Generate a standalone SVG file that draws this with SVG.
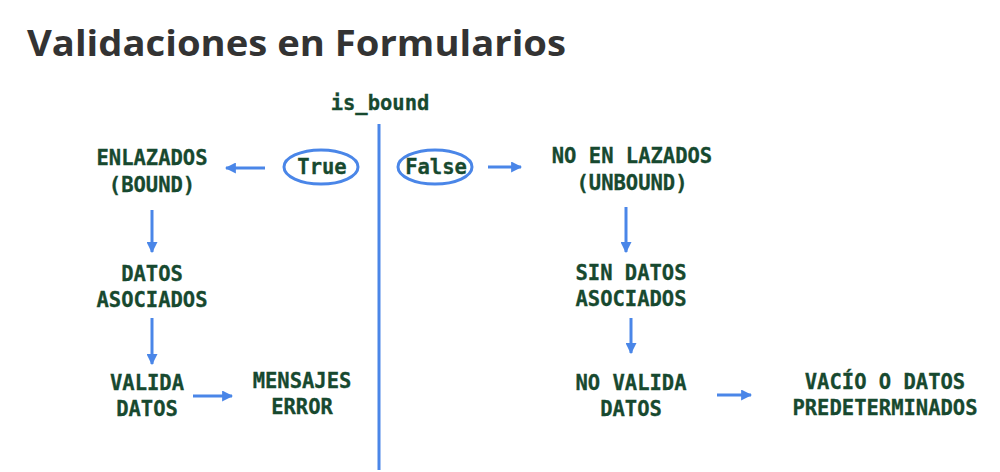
<svg xmlns="http://www.w3.org/2000/svg" width="1000" height="472" viewBox="0 0 1000 472">
<defs>
<style>
.t{font-family:"DejaVu Sans Mono","Liberation Mono",monospace;font-weight:bold;font-size:20.5px;fill:#17492f;text-anchor:middle;stroke:#17492f;stroke-width:0.3}
.title{font-family:"Open Sans","Liberation Sans",sans-serif;font-weight:bold;font-size:36px;fill:#333}
.c{stroke:#4a86e8;stroke-width:3;fill:none}
.e{stroke:#4a86e8;stroke-width:3;fill:#fff}
</style>
<marker id="ah" markerWidth="11" markerHeight="11" refX="9" refY="5" orient="auto" markerUnits="userSpaceOnUse" viewBox="0 0 10 10">
<path d="M0,0 L10,5 L0,10 z" fill="#4a86e8"/>
</marker>
</defs>
<rect width="1000" height="472" fill="#fff"/>
<text class="title" x="27" y="56" textLength="539" lengthAdjust="spacingAndGlyphs">Validaciones en Formularios</text>
<g id="connectors">
<line class="c" x1="379" y1="124" x2="379" y2="470"/>
<line class="c" x1="265" y1="168" x2="226" y2="168" marker-end="url(#ah)"/>
<line class="c" x1="488" y1="167" x2="521" y2="167" marker-end="url(#ah)"/>
<line class="c" x1="152" y1="210" x2="152" y2="252" marker-end="url(#ah)"/>
<line class="c" x1="152" y1="318" x2="152" y2="364" marker-end="url(#ah)"/>
<line class="c" x1="193" y1="396" x2="232" y2="396" marker-end="url(#ah)"/>
<line class="c" x1="626" y1="207" x2="626" y2="252" marker-end="url(#ah)"/>
<line class="c" x1="631" y1="318" x2="631" y2="353" marker-end="url(#ah)"/>
<line class="c" x1="717" y1="395" x2="751" y2="395" marker-end="url(#ah)"/>
</g>
<g id="is_bound"><text class="t" x="380" y="110">is_bound</text></g>
<g id="true"><ellipse class="e" cx="321" cy="167" rx="37" ry="17"/><text class="t" x="322" y="174">True</text></g>
<g id="false"><ellipse class="e" cx="435" cy="167" rx="37" ry="17"/><text class="t" x="436" y="174">False</text></g>
<g id="enlazados"><text class="t" x="152" y="165">ENLAZADOS</text><text class="t" x="152" y="192">(BOUND)</text></g>
<g id="datos_asociados"><text class="t" x="152" y="281">DATOS</text><text class="t" x="152" y="307">ASOCIADOS</text></g>
<g id="valida_datos"><text class="t" x="147" y="390">VALIDA</text><text class="t" x="147" y="416">DATOS</text></g>
<g id="mensajes_error"><text class="t" x="302" y="388">MENSAJES</text><text class="t" x="302" y="414">ERROR</text></g>
<g id="no_enlazados"><text class="t" x="632" y="163">NO EN LAZADOS</text><text class="t" x="632" y="190">(UNBOUND)</text></g>
<g id="sin_datos"><text class="t" x="631" y="280">SIN DATOS</text><text class="t" x="631" y="306">ASOCIADOS</text></g>
<g id="no_valida"><text class="t" x="631" y="390">NO VALIDA</text><text class="t" x="631" y="416">DATOS</text></g>
<g id="vacio"><text class="t" x="885" y="389">VACÍO O DATOS</text><text class="t" x="885" y="415">PREDETERMINADOS</text></g>
</svg>
